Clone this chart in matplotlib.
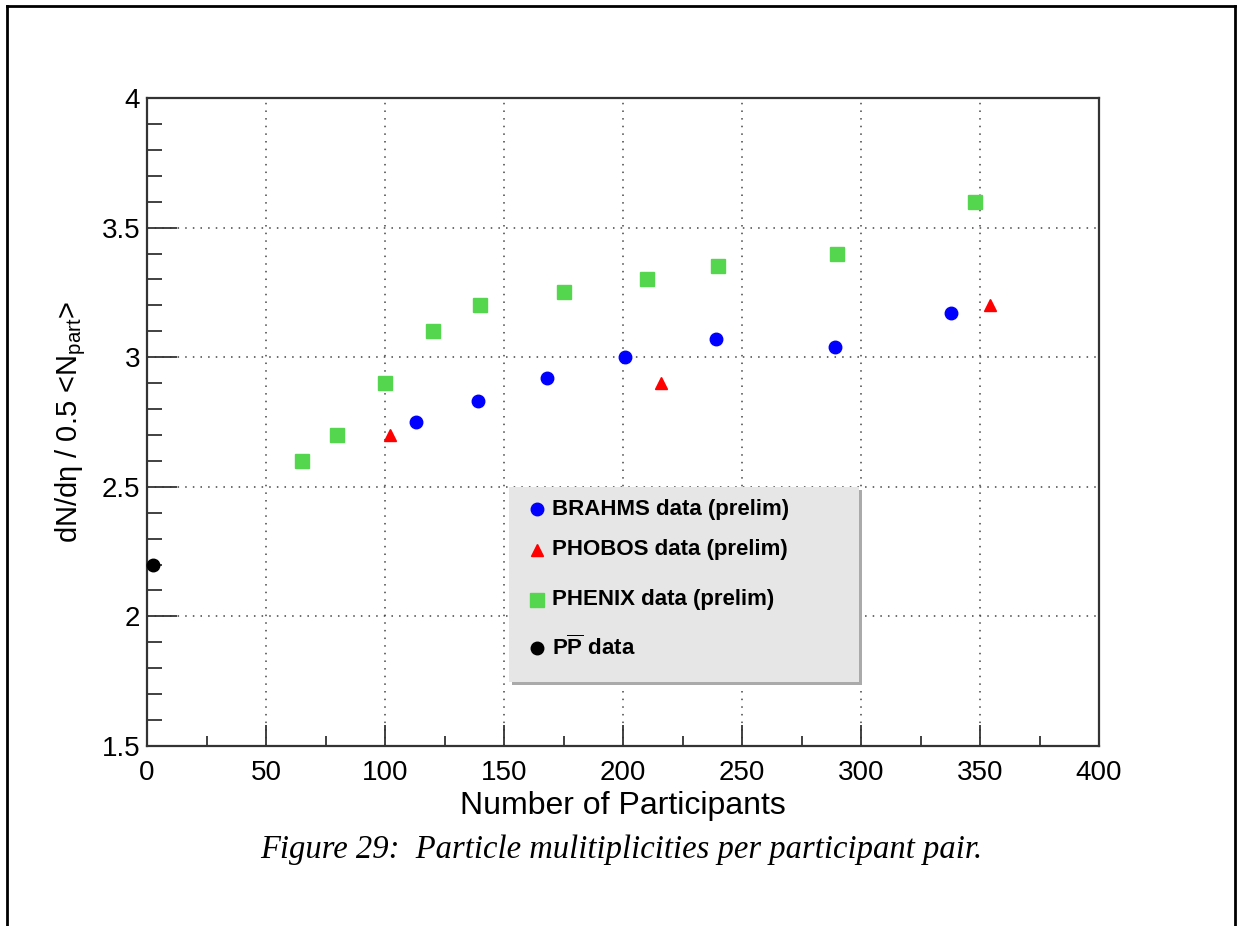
import matplotlib
matplotlib.use("Agg")
import matplotlib.pyplot as plt
from matplotlib.patches import Rectangle
from matplotlib.lines import Line2D
from matplotlib.ticker import MultipleLocator

plt.rcParams['font.family'] = ['Liberation Sans', 'DejaVu Sans']
plt.rcParams['mathtext.fontset'] = 'custom'
plt.rcParams['mathtext.rm'] = 'Liberation Sans'
plt.rcParams['mathtext.it'] = 'Liberation Sans'
plt.rcParams['mathtext.bf'] = 'Liberation Sans:bold'

# === данные ===
brahms_x = [113, 139, 168, 201, 239, 289, 338]
brahms_y = [2.75, 2.83, 2.92, 3.00, 3.07, 3.04, 3.17]

phobos_x = [102, 216, 354]
phobos_y = [2.70, 2.90, 3.20]

phenix_x = [65, 80, 100, 120, 140, 175, 210, 240, 290, 348]
phenix_y = [2.60, 2.70, 2.90, 3.10, 3.20, 3.25, 3.30, 3.35, 3.40, 3.60]

pp_x = [2.5]
pp_y = [2.20]

legend_labels = ["BRAHMS data (prelim)", "PHOBOS data (prelim)",
                 "PHENIX data (prelim)", r"$\mathbf{P\overline{P}}$ data"]

W, H = 1238, 926
green = '#55d64f'

fig = plt.figure(figsize=(W / 100, H / 100), dpi=100)
ax = fig.add_axes([147 / W, 1 - 746 / H, (1099 - 147) / W, (746 - 98) / H])

ax.plot(phenix_x, phenix_y, 's', color=green, ms=9.5, mec=green, zorder=3)
ax.plot(brahms_x, brahms_y, 'o', color='#0000ff', ms=9, zorder=3)
ax.plot(phobos_x, phobos_y, '^', color='#ff0000', ms=9, zorder=3)
ax.plot(pp_x, pp_y, 'o', color='black', ms=9, zorder=3, clip_on=False)

ax.set_xlim(0, 400)
ax.set_ylim(1.5, 4)
ax.xaxis.set_major_locator(MultipleLocator(50))
ax.xaxis.set_minor_locator(MultipleLocator(25))
ax.yaxis.set_minor_locator(MultipleLocator(0.1))
ax.set_yticks([1.5, 2, 2.5, 3, 3.5, 4])
ax.set_yticklabels(['1.5', '2', '2.5', '3', '3.5', '4'])

ax.tick_params(axis='both', which='both', direction='in', top=False, right=False,
               color='#333333', width=1.3, labelsize=20)
ax.tick_params(axis='y', which='major', length=21.5, pad=5)
ax.tick_params(axis='y', which='minor', length=10.8)
ax.tick_params(axis='x', which='major', length=15, pad=10)
ax.tick_params(axis='x', which='minor', length=7.2)

ax.grid(True, which='major', linestyle=(0, (1, 4)), color='#444444', linewidth=1.1)
for s in ax.spines.values():
    s.set_color('#333333')
    s.set_linewidth(1.6)

ax.set_xlabel('Number of Participants', fontsize=23, labelpad=4)
ax.set_ylabel(r'dN/d$\eta$ / 0.5 <N$_{\rm part}$>', fontsize=21, labelpad=10)

# === легенда (рамка с тенью) ===
lx0, ly0, lx1, ly1 = 509, 487, 859, 682
fig.add_artist(Rectangle(((lx0 + 3) / W, 1 - (ly1 + 3) / H),
                         (lx1 - lx0) / W, (ly1 - ly0) / H,
                         transform=fig.transFigure, facecolor='#aaaaaa', edgecolor='none', zorder=5))
fig.add_artist(Rectangle((lx0 / W, 1 - ly1 / H), (lx1 - lx0) / W, (ly1 - ly0) / H,
                         transform=fig.transFigure, facecolor='#e6e6e6', edgecolor='none', zorder=6))
entry_y = [509, 550, 600, 648]
styles = [('o', '#0000ff', 9), ('^', '#ff0000', 9), ('s', green, 9.5), ('o', 'black', 9)]
for yy, lab, (m, c, ms) in zip(entry_y, legend_labels, styles):
    fig.add_artist(Line2D([537 / W], [1 - yy / H], marker=m, color=c, mec=c, ms=ms,
                          linestyle='none', transform=fig.transFigure, zorder=7))
    fig.text(552 / W, 1 - yy / H, lab, fontsize=16, fontweight='bold',
             va='center', ha='left', zorder=7)

# === подпись ===
fig.text(621 / W, 1 - 850 / H, 'Figure 29:  Particle mulitiplicities per participant pair.',
         fontsize=23.5, family='Liberation Serif', style='italic', ha='center', va='center')

# внешняя рамка (без нижней стороны)
fig.add_artist(Line2D([7 / W, 7 / W], [0, 1 - 6 / H], color='black', lw=2, transform=fig.transFigure))
fig.add_artist(Line2D([7 / W, 1235 / W], [1 - 6 / H, 1 - 6 / H], color='black', lw=2, transform=fig.transFigure))
fig.add_artist(Line2D([1235 / W, 1235 / W], [0, 1 - 6 / H], color='black', lw=2, transform=fig.transFigure))

fig.savefig('out.png', dpi=100)
